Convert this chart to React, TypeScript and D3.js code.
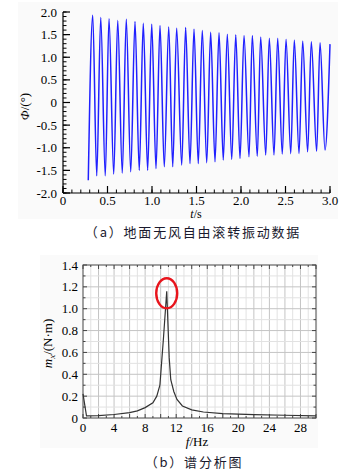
import * as d3 from "d3";
import React from "react";

// (a) roll oscillation: start point, peaks, troughs and end point
const rollStart = { t: 0.284, phi: -1.72 };
const rollEnd = { t: 3.0, phi: 1.29 };
const peakTimes = [
  0.334, 0.424, 0.517, 0.615, 0.711, 0.809, 0.902, 0.997, 1.09, 1.188, 1.277, 1.378, 1.472, 1.565,
  1.659, 1.753, 1.846, 1.941, 2.034, 2.127, 2.221, 2.318, 2.412, 2.506, 2.599, 2.693, 2.79, 2.888,
];
const peakValues = [
  1.93, 1.88, 1.85, 1.81, 1.84, 1.79, 1.75, 1.73, 1.7, 1.67, 1.64, 1.66, 1.62, 1.59, 1.55, 1.54,
  1.51, 1.5, 1.48, 1.48, 1.45, 1.42, 1.42, 1.4, 1.38, 1.36, 1.34, 1.32,
];
const troughTimes = [
  0.379, 0.475, 0.57, 0.666, 0.761, 0.857, 0.951, 1.045, 1.138, 1.233, 1.334, 1.427, 1.52, 1.615,
  1.708, 1.801, 1.896, 1.989, 2.09, 2.183, 2.278, 2.371, 2.464, 2.559, 2.652, 2.749, 2.85, 2.944,
];
const troughValues = [
  -1.62, -1.62, -1.58, -1.56, -1.53, -1.5, -1.5, -1.46, -1.42, -1.42, -1.38, -1.35, -1.35, -1.33,
  -1.31, -1.27, -1.26, -1.24, -1.2, -1.19, -1.16, -1.16, -1.14, -1.13, -1.13, -1.09, -1.08, -1.05,
];
const rollXTicks = [0, 0.5, 1.0, 1.5, 2.0, 2.5, 3.0];
const rollXLabels = ["0", "0.5", "1.0", "1.5", "2.0", "2.5", "3.0"];
const rollYTicks = [2, 1.5, 1, 0.5, 0, -0.5, -1, -1.5, -2];
const rollYLabels = ["2.0", "1.5", "1.0", "0.5", "0", "-0.5", "-1.0", "-1.5", "-2.0"];

// (b) spectrum
const freqs = [0, 0.45, 2, 4, 6, 7, 8, 9, 9.5, 9.9, 10.35, 10.78, 11.1, 11.3, 11.7, 12.1, 12.8, 14, 15.5, 18, 22, 26, 30];
const amps = [0.22, 0.02, 0.022, 0.032, 0.05, 0.065, 0.095, 0.14, 0.2, 0.3, 0.72, 1.16, 0.55, 0.35, 0.24, 0.17, 0.11, 0.075, 0.055, 0.04, 0.03, 0.025, 0.02];
const specXTicks = [0, 4, 8, 12, 16, 20, 24, 28];
const specYTicks = [0, 0.2, 0.4, 0.6, 0.8, 1.0, 1.2, 1.4];
const specYLabels = ["0", "0.2", "0.4", "0.6", "0.8", "1.0", "1.2", "1.4"];

const serif = "Liberation Serif, Times New Roman, DejaVu Serif, serif";
const cjk = "Noto Sans CJK SC, sans-serif";

export default function App() {
  // top chart scales
  const x1 = d3.scaleLinear().domain([0, 3]).range([63, 330]);
  const y1 = d3.scaleLinear().domain([-2, 2]).range([193, 12]);

  const rollPts: { t: number; phi: number }[] = [rollStart];
  peakTimes.forEach((t, i) => {
    rollPts.push({ t, phi: peakValues[i] });
    rollPts.push({ t: troughTimes[i], phi: troughValues[i] });
  });
  rollPts.push(rollEnd);

  const rollLine = d3
    .line<{ t: number; phi: number }>()
    .x((d) => x1(d.t))
    .y((d) => y1(d.phi))
    .curve(d3.curveMonotoneX);

  // bottom chart scales
  const x2 = d3.scaleLinear().domain([0, 30]).range([83, 316]);
  const y2 = d3.scaleLinear().domain([0, 1.4]).range([418, 265]);
  const specLine = d3
    .line<number>()
    .x((d, i) => x2(freqs[i]))
    .y((d) => y2(d));

  const peakIdx = amps.indexOf(d3.max(amps) as number);
  const txt = { fontFamily: serif, fontSize: 13 };

  return (
    <svg
      width={353}
      height={476}
      style={{ position: "absolute", left: 0, top: 0, background: "#fff" }}
    >
      {/* ---------- (a) ---------- */}
      <rect x={18} y={2} width={320} height={217} fill="#fafafa" />
      <path d={rollLine(rollPts) || ""} fill="none" stroke="#2020ff" strokeWidth={1.5} />

      {/* minor ticks */}
      {d3.range(0, 3.001, 0.1).map((v) => (
        <line key={"xm" + v} x1={x1(v)} x2={x1(v)} y1={193} y2={189.5} stroke="#000" />
      ))}
      {d3.range(-2, 2.001, 0.1).map((v) => (
        <line key={"ym" + v} x1={63} x2={66.5} y1={y1(v)} y2={y1(v)} stroke="#000" />
      ))}
      {rollXTicks.map((v, i) => (
        <g key={"xt" + v}>
          <line x1={x1(v)} x2={x1(v)} y1={193} y2={186} stroke="#000" strokeWidth={1.2} />
          <text x={x1(v)} y={205} textAnchor="middle" style={txt}>
            {rollXLabels[i]}
          </text>
        </g>
      ))}
      {rollYTicks.map((v, i) => (
        <g key={"yt" + v}>
          <line x1={63} x2={70} y1={y1(v)} y2={y1(v)} stroke="#000" strokeWidth={1.2} />
          <text x={57} y={y1(v) + 4.5} textAnchor="end" style={txt}>
            {rollYLabels[i]}
          </text>
        </g>
      ))}
      <line x1={63} x2={330} y1={193} y2={193} stroke="#000" strokeWidth={1.2} />
      <line x1={63} x2={63} y1={12} y2={193} stroke="#000" strokeWidth={1.2} />
      <text x={196} y={218} textAnchor="middle" style={{ fontFamily: serif, fontSize: 12 }}>
        <tspan fontStyle="italic">t</tspan>/s
      </text>
      <text
        transform={`translate(29,${y1(0) + 4}) rotate(-90)`}
        textAnchor="middle"
        style={txt}
      >
        <tspan fontStyle="italic">Φ</tspan>/(°)
      </text>
      <text x={193} y={237} textAnchor="middle" style={{ fontFamily: cjk, fontSize: 13, letterSpacing: 1.8 }} fill="#1a1a2e">
        （a）地面无风自由滚转振动数据
      </text>

      {/* ---------- (b) ---------- */}
      <rect x={40} y={255} width={278} height={193} fill="#fafafa" />
      <rect x={83} y={265} width={233} height={153} fill="#fff" />
      {d3.range(1, 30, 1).map((v) => (
        <line key={"gx" + v} x1={x2(v)} x2={x2(v)} y1={265} y2={418} stroke={v % 2 === 0 ? "#c4c4c4" : "#e2e2e2"} />
      ))}
      {d3.range(1, 14, 1).map((k) => (
        <line key={"gy" + k} x1={83} x2={316} y1={y2(k / 10)} y2={y2(k / 10)} stroke={k % 2 === 0 ? "#c4c4c4" : "#e2e2e2"} />
      ))}
      {d3.range(0, 31, 1).map((v) => (
        <g key={"bx" + v}>
          <line x1={x2(v)} x2={x2(v)} y1={418} y2={v % 2 === 0 ? 414 : 416} stroke="#444" />
          <line x1={x2(v)} x2={x2(v)} y1={265} y2={v % 2 === 0 ? 269 : 267} stroke="#444" />
        </g>
      ))}
      {d3.range(0, 15, 1).map((k) => (
        <g key={"by" + k}>
          <line x1={83} x2={k % 2 === 0 ? 87 : 85.5} y1={y2(k / 10)} y2={y2(k / 10)} stroke="#444" />
          <line x1={316} x2={k % 2 === 0 ? 312 : 313.5} y1={y2(k / 10)} y2={y2(k / 10)} stroke="#444" />
        </g>
      ))}
      <rect x={83} y={265} width={233} height={153} fill="none" stroke="#444" strokeWidth={1} />
      <path d={specLine(amps) || ""} fill="none" stroke="#333" strokeWidth={1.2} />
      <ellipse
        cx={x2(freqs[peakIdx])}
        cy={y2(amps[peakIdx]) + 2}
        rx={10.5}
        ry={15}
        fill="none"
        stroke="#e8141c"
        strokeWidth={2.4}
      />
      {specXTicks.map((v) => (
        <text key={"sx" + v} x={x2(v)} y={432} textAnchor="middle" style={txt}>
          {v}
        </text>
      ))}
      {specYTicks.map((v, i) => (
        <text key={"sy" + v} x={78} y={y2(v) + 4.5} textAnchor="end" style={txt}>
          {specYLabels[i]}
        </text>
      ))}
      <text x={197} y={446} textAnchor="middle" style={txt}>
        <tspan fontStyle="italic">f</tspan>/Hz
      </text>
      <text
        transform={`translate(52,${y2(0.7) + 2}) rotate(-90)`}
        textAnchor="middle"
        style={txt}
      >
        <tspan fontStyle="italic">m</tspan>
        <tspan fontStyle="italic" fontSize={9} dy={3}>x</tspan>
        <tspan dy={-3}>/(N·m)</tspan>
      </text>
      <text x={194} y={467} textAnchor="middle" style={{ fontFamily: cjk, fontSize: 13, letterSpacing: 1.8 }} fill="#1a1a2e">
        （b）谱分析图
      </text>
    </svg>
  );
}
